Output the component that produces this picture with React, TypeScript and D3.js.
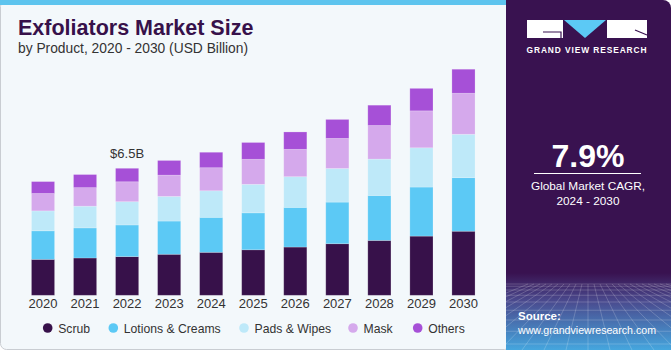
import React from "react";
import * as d3 from "d3";

const years = ["2020","2021","2022","2023","2024","2025","2026","2027","2028","2029","2030"];
const seriesNames = ["Scrub","Lotions & Creams","Pads & Wipes","Mask","Others"];
const scrub = [1.84,1.91,1.98,2.10,2.20,2.33,2.47,2.64,2.81,3.03,3.28];
const lotions = [1.46,1.54,1.62,1.70,1.79,1.89,2.03,2.13,2.30,2.51,2.74];
const pads = [1.02,1.11,1.19,1.26,1.36,1.46,1.57,1.72,1.86,2.01,2.22];
const mask = [0.89,0.95,1.02,1.09,1.18,1.28,1.40,1.54,1.72,1.89,2.10];
const others = [0.61,0.67,0.69,0.75,0.79,0.86,0.89,0.97,1.04,1.15,1.23];
const colors = ["#37114a","#5cc9f5","#bee9f9","#d5a9ec","#a650d7"];
const annotationYear = "2022";
const annotationText = "$6.5B";

const W = 671, H = 350;
const FONT = "'Liberation Sans', Arial, sans-serif";

export default function App() {
  const table = years.map((y, i) => ({
    year: y,
    "Scrub": scrub[i],
    "Lotions & Creams": lotions[i],
    "Pads & Wipes": pads[i],
    "Mask": mask[i],
    "Others": others[i],
  }));
  const stacked = d3.stack<any>().keys(seriesNames)(table);
  const x = d3.scaleBand<string>().domain(years).range([22, 484.5]).paddingInner(0.45).paddingOuter(0.225);
  const y = d3.scaleLinear().domain([0, 12]).range([295.3, 295.3 - 12 * 19.54]);
  const annIdx = years.indexOf(annotationYear);
  const annTop = stacked[stacked.length - 1][annIdx][1];

  const legendX = [47.7, 113.3, 244, 353, 417.7];

  const gridV = d3.range(-10, 22).map((i) => i);
  const gridH = d3.range(0, 10).map((i) => i);

  return (
    <svg width={W} height={H} style={{ position: "absolute", left: 0, top: 0, display: "block" }}>
      <defs>
        <linearGradient id="rp" x1="0" y1="0" x2="0" y2="1">
          <stop offset="0" stopColor="#391250" />
          <stop offset="0.78" stopColor="#391250" />
          <stop offset="0.86" stopColor="#4a4a8e" />
          <stop offset="1" stopColor="#45a6de" />
        </linearGradient>
        <clipPath id="rpclip">
          <path d={`M506,0 H663 A8,8 0 0 1 671,8 V350 H506 Z`} />
        </clipPath>
      </defs>
      <rect x={0.5} y={0.5} width={510} height={349} rx={6} fill="#f3f8fb" stroke="#c9cdd2" />
      <rect x={0} y={0} width={508} height={5} fill="#5dc4ee" />
      <text x={18} y={35} fontFamily={FONT} fontWeight={700} fontSize={21.5} fill="#37114a">Exfoliators Market Size</text>
      <text x={18} y={53} fontFamily={FONT} fontSize={13.8} fill="#333">by Product, 2020 - 2030 (USD Billion)</text>

      {stacked.map((s, si) => (
        <g key={si}>
          {s.map((d, i) => (
            <rect key={i} x={x(years[i])} width={x.bandwidth()} y={y(d[1])} height={y(d[0]) - y(d[1])}
              fill={colors[si]} stroke="#ffffff" strokeOpacity={0.25} strokeWidth={0.8} />
          ))}
        </g>
      ))}
      <text x={(x(annotationYear) as number) + x.bandwidth() / 2} y={y(annTop) - 10} textAnchor="middle"
        fontFamily={FONT} fontSize={13} fill="#333">{annotationText}</text>

      {years.map((yr) => (
        <text key={yr} x={(x(yr) as number) + x.bandwidth() / 2} y={307.5} textAnchor="middle"
          fontFamily={FONT} fontSize={13} fill="#333">{yr}</text>
      ))}

      {seriesNames.map((n, i) => (
        <g key={n}>
          <circle cx={legendX[i]} cy={328} r={4.8} fill={colors[i]} />
          <text x={legendX[i] + 10.5} y={332.5} fontFamily={FONT} fontSize={12.2} fill="#333">{n}</text>
        </g>
      ))}

      <g clipPath="url(#rpclip)">
        <rect x={506} y={0} width={165} height={350} fill="url(#rp)" />
        <g stroke="#ffffff" strokeOpacity={0.28} strokeWidth={0.7} fill="none">
          {gridV.map((i) => (
            <line key={"v" + i} x1={588 + i * 6} y1={284} x2={588 + i * 22} y2={350} />
          ))}
          {gridH.map((i) => (
            <line key={"h" + i} x1={506} y1={284 + i * i * 0.75 + i * 1.5} x2={671} y2={284 + i * i * 0.75 + i * 1.5} />
          ))}
        </g>
      </g>
      <rect x={527} y={20} width={36} height={18} fill="#ffffff" />
      <path d="M543,32 H561 V38" stroke="#391250" strokeWidth={1.2} fill="none" />
      <path d="M564,20 H606 L585,38 Z" fill="#5cc9f5" />
      <rect x={607} y={20} width={40} height={18} fill="#ffffff" />
      <path d="M635,30 L647,35" stroke="#391250" strokeWidth={1.2} />
      <text x={587} y={53} textAnchor="middle" fontFamily={FONT} fontWeight={700} fontSize={8.4} letterSpacing={0.9} fill="#ffffff">GRAND VIEW RESEARCH</text>

      <text x={588} y={166.5} textAnchor="middle" fontFamily={FONT} fontWeight={700} fontSize={32} fill="#ffffff">7.9%</text>
      <line x1={534} x2={641} y1={173.5} y2={173.5} stroke="#ffffff" strokeWidth={1} />
      <text x={588} y={190} textAnchor="middle" fontFamily={FONT} fontSize={11.8} fill="#ffffff">Global Market CAGR,</text>
      <text x={588} y={205} textAnchor="middle" fontFamily={FONT} fontSize={11.8} fill="#ffffff">2024 - 2030</text>

      <text x={518} y={319.5} fontFamily={FONT} fontWeight={700} fontSize={11.5} fill="#ffffff">Source:</text>
      <text x={518} y={333.5} fontFamily={FONT} fontSize={11} textLength={138} lengthAdjust="spacingAndGlyphs" fill="#ffffff">www.grandviewresearch.com</text>
    </svg>
  );
}
